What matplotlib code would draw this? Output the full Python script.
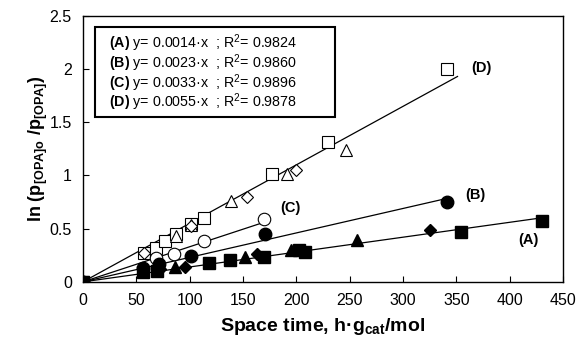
import matplotlib
matplotlib.use('Agg')
import matplotlib.pyplot as plt
from matplotlib.patches import Rectangle

plt.rcParams['font.family'] = ['Liberation Sans', 'DejaVu Sans']
plt.rcParams['mathtext.fontset'] = 'custom'
plt.rcParams['mathtext.rm'] = 'Liberation Sans'
plt.rcParams['mathtext.bf'] = 'Liberation Sans:bold'
plt.rcParams['mathtext.it'] = 'Liberation Sans:italic'

# --- data ---
# (A) filled markers, lowest line
a_sq_x = [0, 56.5, 69, 118, 138, 170, 202, 208, 354, 430]
a_sq_y = [0, 0.097, 0.106, 0.175, 0.206, 0.237, 0.30, 0.28, 0.47, 0.57]
a_tri_x = [86, 152, 195, 257]
a_tri_y = [0.143, 0.237, 0.30, 0.39]
a_dia_x = [72, 95.6, 163, 325]
a_dia_y = [0.12, 0.143, 0.262, 0.487]

# (B) filled circles
b_x = [0, 56, 71.5, 101, 171, 341]
b_y = [0, 0.128, 0.169, 0.247, 0.45, 0.75]

# (C) open circles
c_x = [0, 68, 85.6, 113.4, 169.7]
c_y = [0, 0.22, 0.262, 0.381, 0.587]

# (D) open markers, steepest line
d_sq_x = [0, 57.5, 68.4, 76.9, 86.9, 101.2, 113.4, 177.5, 229.4, 341]
d_sq_y = [0, 0.269, 0.316, 0.387, 0.45, 0.544, 0.60, 1.012, 1.315, 2.0]
d_tri_x = [86.9, 101, 138.7, 191.5, 246.5]
d_tri_y = [0.434, 0.53, 0.759, 1.016, 1.237]
d_dia_x = [57.2, 101, 153.5, 199.7]
d_dia_y = [0.275, 0.525, 0.794, 1.056]

# linear fits through the origin
slopes = {'A': 0.0014, 'B': 0.0023, 'C': 0.0033, 'D': 0.0055}
line_end = {'A': 430, 'B': 341, 'C': 170, 'D': 351}
r2 = {'A': '0.9824', 'B': '0.9860', 'C': '0.9896', 'D': '0.9878'}

fig = plt.figure(figsize=(5.8, 3.45), dpi=100)
ax = fig.add_axes([0.143, 0.183, 0.828, 0.771])

# fit lines
for k in ['A', 'B', 'C', 'D']:
    ax.plot([0, line_end[k]], [0, slopes[k] * line_end[k]], color='black', lw=0.9, zorder=1)

# open markers (D, C)
ax.plot(d_sq_x, d_sq_y, 's', ms=8, mfc='white', mec='black', mew=0.8, ls='none', zorder=2)
ax.plot(d_tri_x, d_tri_y, '^', ms=9, mfc='white', mec='black', mew=0.8, ls='none', zorder=2)
ax.plot(d_dia_x, d_dia_y, 'D', ms=6.5, mfc='white', mec='black', mew=0.8, ls='none', zorder=2)
ax.plot(c_x, c_y, 'o', ms=9, mfc='white', mec='black', mew=0.8, ls='none', zorder=2)

# filled markers (B, A)
ax.plot(b_x, b_y, 'o', ms=9, color='black', ls='none', zorder=3)
ax.plot(a_sq_x, a_sq_y, 's', ms=8, color='black', ls='none', zorder=3)
ax.plot(a_tri_x, a_tri_y, '^', ms=9, color='black', ls='none', zorder=3)
ax.plot(a_dia_x, a_dia_y, 'D', ms=6.5, color='black', ls='none', zorder=3)

# line labels
lab_kw = dict(fontsize=10.5, fontweight='bold', ha='center', va='center')
ax.text(373, 2.006, '(D)', **lab_kw)
ax.text(367.5, 0.815, '(B)', **lab_kw)
ax.text(417, 0.394, '(A)', **lab_kw)
ax.text(194.7, 0.69, '(C)', **lab_kw)

# equation box
ax.add_patch(Rectangle((0.025, 0.618), 0.5, 0.341, transform=ax.transAxes,
                       fill=False, ec='black', lw=1.5, zorder=4))
ys = [0.898, 0.822, 0.748, 0.674]
for k, yy in zip(['A', 'B', 'C', 'D'], ys):
    ax.text(0.054, yy, r'$\mathbf{(%s)}$ y= %.4f·x  ; R$^2$= %s' % (k, slopes[k], r2[k]),
            transform=ax.transAxes, fontsize=10.3, va='center', ha='left')

ax.set_xlim(0, 450)
ax.set_ylim(0, 2.5)
ax.set_xticks(range(0, 451, 50))
ax.set_yticks([0, 0.5, 1, 1.5, 2, 2.5])
ax.set_yticklabels(['0', '0.5', '1', '1.5', '2', '2.5'])
ax.tick_params(direction='in', labelsize=11.5, length=4, width=0.8)
ax.tick_params(axis='y', pad=8)
ax.tick_params(axis='x', pad=8)
for s in ax.spines.values():
    s.set_linewidth(1.0)

ax.set_xlabel(r'Space time, h·g$_{\mathbf{cat}}$/mol', fontsize=14, fontweight='bold', labelpad=6)
ax.set_ylabel(r'$\mathbf{ln\ (p_{[OPA]o}\ /p_{[OPA]})}$', fontsize=13, labelpad=0)

plt.savefig('out.png', dpi=100)
